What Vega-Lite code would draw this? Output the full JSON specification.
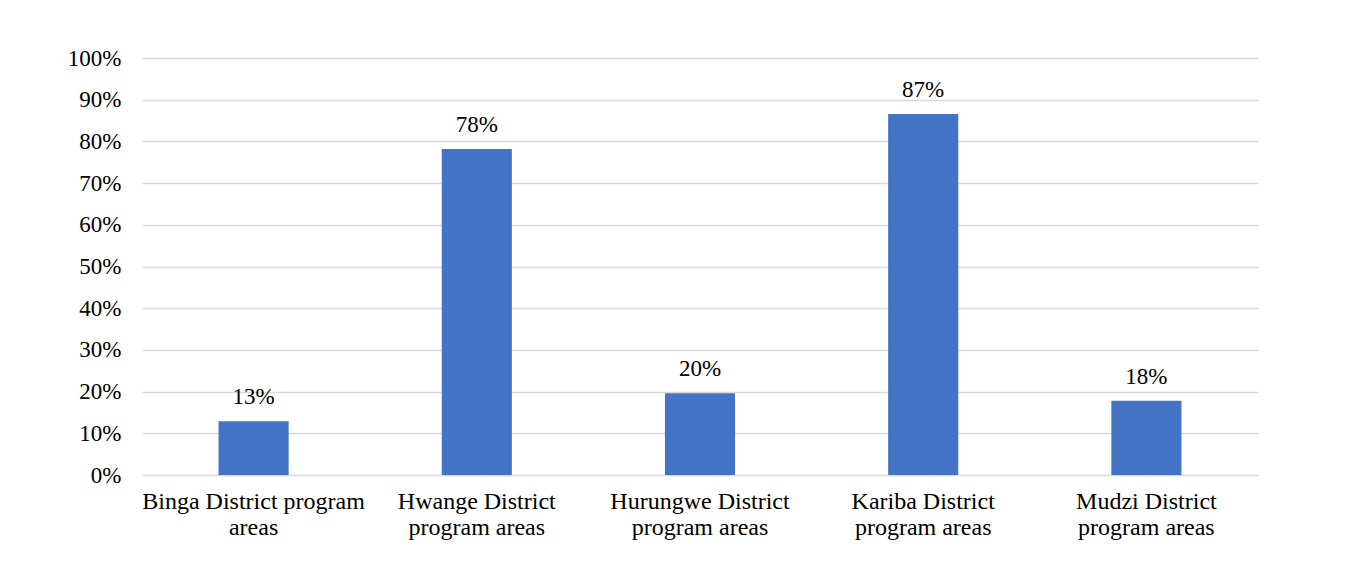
{
  "$schema": "https://vega.github.io/schema/vega-lite/v6.json",
  "autosize": {"type": "none"},
  "padding": {"left": 142, "top": 58, "right": 108, "bottom": 104},
  "width": 1116,
  "height": 417,
  "background": "#ffffff",
  "config": {
    "view": {"stroke": null},
    "font": "Liberation Serif"
  },
  "data": {
    "values": [
      {"area": "Binga District program areas", "share": 0.129},
      {"area": "Hwange District program areas", "share": 0.782},
      {"area": "Hurungwe District program areas", "share": 0.196},
      {"area": "Kariba District program areas", "share": 0.866},
      {"area": "Mudzi District program areas", "share": 0.178}
    ]
  },
  "encoding": {
    "x": {
      "field": "area",
      "type": "nominal",
      "sort": null,
      "scale": {"paddingInner": 0.686, "paddingOuter": 0.343},
      "axis": {
        "title": null,
        "domain": false,
        "ticks": false,
        "labelAngle": 0,
        "labelFont": "Liberation Serif",
        "labelFontSize": 24,
        "labelColor": "#000000",
        "labelBaseline": "top",
        "labelPadding": 14,
        "labelLineHeight": 26,
        "labelLimit": 400,
        "labelOverlap": false,
        "labelExpr": "datum.label == 'Binga District program areas' ? ['Binga District program', 'areas'] : split(replace(datum.label, ' District ', ' District|'), '|')"
      }
    },
    "y": {
      "field": "share",
      "type": "quantitative",
      "scale": {"domain": [0, 1]},
      "axis": {
        "title": null,
        "format": ".0%",
        "values": [0, 0.1, 0.2, 0.3, 0.4, 0.5, 0.6, 0.7, 0.8, 0.9, 1],
        "labelOverlap": false,
        "domain": false,
        "ticks": false,
        "grid": true,
        "gridColor": "#d9d9d9",
        "gridWidth": 1.5,
        "labelFont": "Liberation Serif",
        "labelFontSize": 23,
        "labelColor": "#000000",
        "labelPadding": 21
      }
    }
  },
  "layer": [
    {"mark": {"type": "bar", "color": "#4472C4"}},
    {
      "mark": {"type": "text", "baseline": "alphabetic", "dy": -17, "font": "Liberation Serif", "fontSize": 23, "color": "#000000"},
      "encoding": {"text": {"field": "share", "type": "quantitative", "format": ".0%"}}
    }
  ]
}
